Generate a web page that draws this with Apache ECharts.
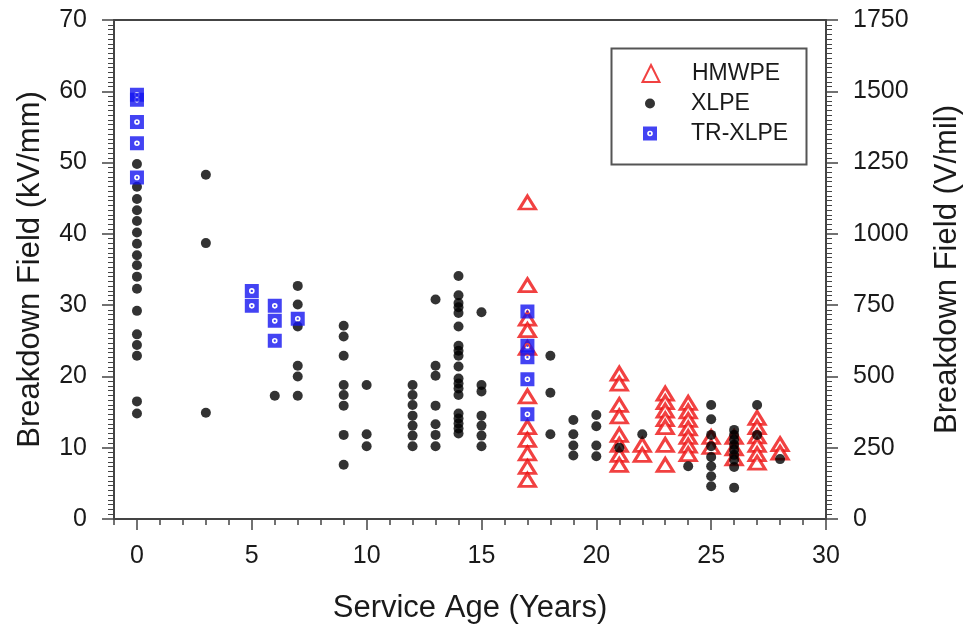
<!DOCTYPE html>
<html><head><meta charset="utf-8">
<script src="https://cdn.jsdelivr.net/npm/echarts/dist/echarts.min.js"></script>
<style>html,body{margin:0;padding:0;background:#fff}#c{width:968px;height:632px}</style>
</head><body><div id="c"></div>
<script>
// ---- data ----
const ageTicks = [0, 5, 10, 15, 20, 25, 30];
const kvTicks = [0, 10, 20, 30, 40, 50, 60, 70];
const vmilTicks = [0, 250, 500, 750, 1000, 1250, 1500, 1750];

const hmwpe = [
  [17,44.4],[17,32.8],[17,28.1],[17,26.5],[17,24.0],[17,17.2],[17,12.9],[17,11.1],[17,9.2],[17,7.3],[17,5.5],
  [21,20.4],[21,19.0],[21,16.0],[21,14.4],[21,11.8],[21,10.4],[21,9.0],[21,7.6],
  [22,10.4],[22,9.0],
  [23,17.6],[23,16.4],[23,15.2],[23,14.0],[23,12.9],[23,10.4],[23,7.6],
  [24,16.3],[24,15.1],[24,13.9],[24,12.7],[24,11.5],[24,10.3],[24,9.1],
  [25,11.5],[25,10.1],
  [26,11.5],[26,9.9],[26,8.5],
  [27,14.2],[27,12.9],[27,11.6],[27,10.4],[27,9.1],[27,7.9],
  [28,10.5],[28,9.3]
];
const xlpe = [
  [0,49.8],[0,46.6],[0,44.9],[0,43.3],[0,41.8],[0,40.2],[0,38.6],[0,37.0],[0,35.6],[0,34.0],[0,32.3],[0,29.2],[0,25.9],[0,24.4],[0,22.9],[0,16.5],[0,14.8],
  [3,48.3],[3,38.7],[3,14.9],
  [6,17.3],
  [7,32.7],[7,30.1],[7,27.0],[7,21.5],[7,20.0],[7,17.3],
  [9,27.1],[9,25.6],[9,22.9],[9,18.8],[9,17.4],[9,15.9],[9,11.8],[9,7.6],
  [10,18.8],[10,11.9],[10,10.2],
  [12,18.8],[12,17.4],[12,16.0],[12,14.5],[12,13.1],[12,11.7],[12,10.2],
  [13,30.8],[13,21.5],[13,20.1],[13,15.9],[13,13.3],[13,11.8],[13,10.2],
  [14,34.1],[14,31.4],[14,30.3],[14,29.7],[14,28.9],[14,27.0],[14,24.3],[14,23.6],[14,22.9],[14,21.4],[14,19.7],[14,19.0],[14,18.3],[14,17.4],[14,14.8],[14,14.1],[14,13.4],[14,12.7],[14,12.0],
  [15,29.0],[15,18.8],[15,17.9],[15,14.5],[15,13.1],[15,11.7],[15,10.2],
  [18,22.9],[18,17.7],[18,11.9],
  [19,13.9],[19,11.9],[19,10.3],[19,8.9],
  [20,14.6],[20,13.0],[20,10.3],[20,8.8],
  [21,10.0],
  [22,11.9],
  [24,7.4],
  [25,16.0],[25,14.0],[25,11.8],[25,10.2],[25,8.7],[25,7.4],[25,6.0],[25,4.6],
  [26,12.5],[26,11.8],[26,11.1],[26,10.4],[26,9.7],[26,9.0],[26,8.3],[26,7.3],[26,4.4],
  [27,16.0],[27,11.8],
  [28,8.4]
];
const trxlpe = [
  [0,59.5],[0,58.8],[0,55.7],[0,52.7],[0,47.9],
  [5,32.0],[5,29.9],
  [6,29.9],[6,27.8],[6,25.0],
  [7,28.1],
  [17,29.1],[17,24.3],[17,22.7],[17,19.6],[17,14.7]
];

// ---- styling ----
const FONT = 'Liberation Sans, Arial, Helvetica, sans-serif';
const AX = '#444';
const TXT = '#1a1a1a';
const RED = '#ee1111';
const BLUE = '#1414f0';
const squareHole = 'path://M0,0L12,0L12,12L0,12Z M8.4,6A2.4,2.4 0 0 0 3.6,6A2.4,2.4 0 0 0 8.4,6Z M7.0,6A1.0,1.0 0 0 1 5.0,6A1.0,1.0 0 0 1 7.0,6Z';

const chart = echarts.init(document.getElementById('c'), null, {renderer: 'canvas'});
const lineStyle = {color: AX, width: 2};
const tickStyle = {color: AX, width: 1.5};
const labelFont = 25;
const nameFont = 31;

// icon centred at x=650, label text starting at x=691
function legendFor(name, rowY, size) {
  const textStart = 650 + size / 2 + 5;
  return {
    data: [name], orient: 'vertical', left: 650 - size / 2, top: rowY - 12,
    itemWidth: size, itemHeight: size, padding: 0, selectedMode: false,
    textStyle: {fontSize: 23, color: TXT, fontFamily: FONT, padding: [0, 0, 0, 691 - textStart]}
  };
}

chart.setOption({
  animation: false,
  backgroundColor: '#fff',
  textStyle: {fontFamily: FONT},
  grid: {left: 114, right: 142, top: 20, bottom: 113, containLabel: false, outerBoundsMode: 'none'},
  legend: [legendFor('HMWPE', 74, 17), legendFor('XLPE', 104, 10), legendFor('TR-XLPE', 134, 14)],
  graphic: [{
    type: 'rect', left: 609, top: 46, shape: {x: 0, y: 0, width: 195, height: 116},
    style: {fill: null, stroke: '#555', lineWidth: 2}, z: 0
  }],
  xAxis: [
    {type: 'value', position: 'bottom', min: -1, max: 30, interval: 1,
     axisLine: {show: true, onZero: false, lineStyle: lineStyle},
     axisTick: {show: true, length: 6, lineStyle: tickStyle},
     axisLabel: {show: false}, splitLine: {show: false}},
    {type: 'value', position: 'bottom', min: -1, max: 30,
     axisLine: {show: false, onZero: false},
     axisTick: {show: true, customValues: ageTicks, length: 11, lineStyle: tickStyle},
     axisLabel: {show: true, customValues: ageTicks, margin: 25, fontSize: labelFont, color: TXT, fontFamily: FONT},
     splitLine: {show: false},
     name: 'Service Age (Years)', nameLocation: 'middle', nameGap: 74, nameMoveOverlap: false,
     nameTextStyle: {fontSize: nameFont, color: TXT, fontFamily: FONT}},
    {type: 'value', position: 'top', min: -1, max: 30,
     axisLine: {show: true, onZero: false, lineStyle: lineStyle},
     axisTick: {show: false}, axisLabel: {show: false}, splitLine: {show: false}}
  ],
  yAxis: [
    {type: 'value', position: 'left', min: 0, max: 70, interval: 10,
     axisLine: {show: true, onZero: false, lineStyle: lineStyle},
     axisTick: {show: true, length: 12, lineStyle: tickStyle},
     minorTick: {show: true, splitNumber: 15, length: 6, lineStyle: {color: AX, width: 1}},
     axisLabel: {customValues: kvTicks, margin: 27, fontSize: labelFont, color: TXT, fontFamily: FONT,
                 formatter: v => String(v)},
     splitLine: {show: false},
     name: 'Breakdown Field (kV/mm)', nameLocation: 'middle', nameGap: 68, nameMoveOverlap: false,
     nameTextStyle: {fontSize: nameFont, color: TXT, fontFamily: FONT}},
    {type: 'value', position: 'right', min: 0, max: 1750, interval: 250,
     axisLine: {show: true, onZero: false, lineStyle: lineStyle},
     axisTick: {show: true, length: 12, lineStyle: tickStyle},
     minorTick: {show: true, splitNumber: 15, length: 6, lineStyle: {color: AX, width: 1}},
     axisLabel: {customValues: vmilTicks, margin: 27, fontSize: labelFont, color: TXT, fontFamily: FONT,
                 formatter: v => String(v)},
     splitLine: {show: false},
     name: 'Breakdown Field (V/mil)', nameLocation: 'middle', nameGap: 106, nameMoveOverlap: false,
     nameTextStyle: {fontSize: nameFont, color: TXT, fontFamily: FONT}}
  ],
  series: [
    {type: 'scatter', name: 'HMWPE', data: hmwpe, xAxisIndex: 0, yAxisIndex: 0,
     symbol: 'triangle', symbolSize: [16, 13], z: 2,
     itemStyle: {color: '#fff', borderColor: RED, borderWidth: 3},
     emphasis: {disabled: true}},
    {type: 'scatter', name: 'XLPE', data: xlpe, xAxisIndex: 0, yAxisIndex: 0,
     symbol: 'circle', symbolSize: 10, z: 3,
     itemStyle: {color: '#000'}, emphasis: {disabled: true}},
    {type: 'scatter', name: 'TR-XLPE', data: trxlpe, xAxisIndex: 0, yAxisIndex: 0,
     symbol: squareHole, symbolSize: 14, z: 4,
     itemStyle: {color: BLUE}, emphasis: {disabled: true}}
  ]
});
</script>
</body></html>
